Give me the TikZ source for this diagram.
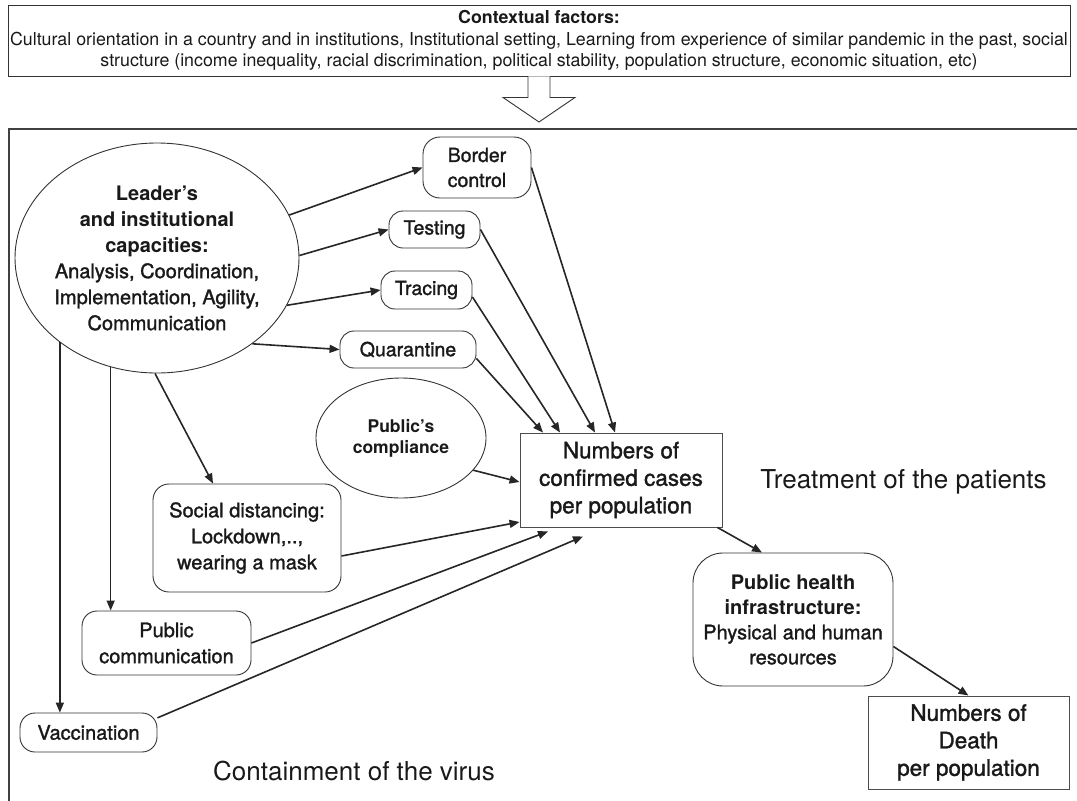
\documentclass[tikz,border=0pt]{standalone}
\usepackage{fontspec}
\setmainfont{TeX Gyre Heros}
\newfontfamily\medfont[FakeBold=1.4]{TeX Gyre Heros}
\newcommand\hb[1]{{\rmfamily\bfseries #1}}
\usetikzlibrary{shapes.geometric,arrows.meta}
\begin{document}
\begin{tikzpicture}[x=1pt,y=-1pt,
  every node/.style={align=center,inner sep=0pt,text=black!90},
  ctxbox/.style={draw=black!80,line width=0.9pt,font=\fontsize{17.8}{21.5}\selectfont},
  rbox/.style={draw=black!80,line width=0.9pt,rounded corners=#1,font=\medfont\fontsize{20}{26}\selectfont},
  rbox/.default=15pt,
  sbox/.style={draw=black!70,line width=0.9pt,font=\medfont\fontsize{22.5}{27.5}\selectfont},
  oval/.style={ellipse,draw=black!80,line width=0.9pt},
  arr/.style={-{Triangle[length=10pt,width=8pt]},line width=1.6pt,draw=black!85},
  hollow/.style={draw=black!80,line width=0.9pt,fill=white},
  caption/.style={font=\fontsize{26}{30}\selectfont}]
\useasboundingbox (0,0) rectangle (1077,801);
\draw[draw=black!75,line width=1.1pt] (1080,129) -- (9,129) -- (9,805);
\node[ctxbox,minimum width=1062,minimum height=71] (ctx) at (539,40.5)
  {\textbf{Contextual factors:}\\Cultural orientation in a country and in institutions, Institutional setting, Learning from experience of similar pandemic in the past, social\\structure (income inequality, racial discrimination, political stability, population structure, economic situation, etc)};
\coordinate (tip) at (539,122);
\draw[hollow] ([xshift=-11pt]ctx.south) -- ([xshift=-11pt,yshift=-21pt]ctx.south) -- ([xshift=-36pt,yshift=-21pt]ctx.south)
  -- (tip) -- ([xshift=36pt,yshift=-21pt]ctx.south) -- ([xshift=11pt,yshift=-21pt]ctx.south) -- ([xshift=11pt]ctx.south);
\node[oval,minimum width=284,minimum height=230,inner xsep=-6pt,font=\medfont\fontsize{20}{26}\selectfont] (lead) at (157,258)
  {\hb{Leader's}\\\hb{and institutional}\\\hb{capacities:}\\Analysis, Coordination,\\Implementation, Agility,\\Communication};
\node[rbox=17pt,minimum width=108,minimum height=61,font=\medfont\fontsize{19.5}{25}\selectfont] (border) at (477,167.5) {Border\\control};
\node[rbox=14pt,minimum width=91,minimum height=37,font=\medfont\fontsize{19.5}{25}\selectfont] (test) at (434.5,229.5) {Testing};
\node[rbox=14pt,minimum width=91,minimum height=38,font=\medfont\fontsize{19.5}{25}\selectfont] (trace) at (426.5,290) {Tracing};
\node[rbox=14pt,minimum width=136,minimum height=37,font=\medfont\fontsize{19.5}{25}\selectfont] (quar) at (408,349.5) {Quarantine};
\node[oval,minimum width=170,minimum height=120,font=\fontsize{17.5}{21}\selectfont] (comp) at (401,438) {\hb{Public's}\\\hb{compliance}};
\node[sbox,minimum width=202,minimum height=94] (cases) at (621,480) {Numbers of\\confirmed cases\\per population};
\node[rbox=16pt,minimum width=188,minimum height=108] (social) at (247,538) {Social distancing:\\Lockdown,..,\\wearing a mask};
\node[rbox,minimum width=169,minimum height=64] (pcomm) at (166.5,643) {Public\\communication};
\node[rbox,minimum width=137,minimum height=39] (vacc) at (88.5,732.5) {Vaccination};
\node[rbox=30pt,minimum width=200,minimum height=133,font=\medfont\fontsize{20}{25}\selectfont] (health) at (793,619.5)
  {\hb{Public health}\\\hb{infrastructure:}\\Physical and human\\resources};
\node[sbox,minimum width=201,minimum height=93] (death) at (968.5,742.5) {Numbers of\\Death\\per population};
\node[caption] (treat) at (903.5,482) {Treatment of the patients};
\node[caption] (contain) at (354,771) {Containment of the virus};
\draw[arr] (lead.18) -- (border.west);
\draw[arr] (lead.1) -- (test.west);
\draw[arr] (lead.-20) -- (trace.west);
\draw[arr] (lead.-42) -- (quar.west);
\draw[arr] (lead.-91) -- ([xshift=-34pt]social.north);
\draw[arr] (lead.247) -- (lead.247 |- pcomm.north);
\draw[arr] (lead.221) -- (lead.221 |- vacc.north);
\draw[arr] (border.east) -- ([xshift=-6pt]cases.north);
\draw[arr] (test.east) -- ([xshift=-26pt]cases.north);
\draw[arr] ([yshift=-7pt]trace.east) -- ([xshift=-61pt]cases.north);
\draw[arr] ([yshift=-9pt]quar.east) -- ([xshift=-78pt]cases.north);
\draw[arr] (comp.-24) -- ([yshift=-2pt]cases.west);
\draw[arr] ([yshift=-18pt]social.east) -- ([yshift=-42pt]cases.west);
\draw[arr] (pcomm.east) -- ([xshift=-73pt,yshift=-4pt]cases.south);
\draw[arr] (vacc.12) -- ([xshift=-38pt,yshift=-9pt]cases.south);
\draw[arr] ([xshift=-5pt]cases.south east) -- ([xshift=-31pt]health.north);
\draw[arr] ([yshift=-27pt]health.east) -- (death.north);
\end{tikzpicture}
\end{document}
